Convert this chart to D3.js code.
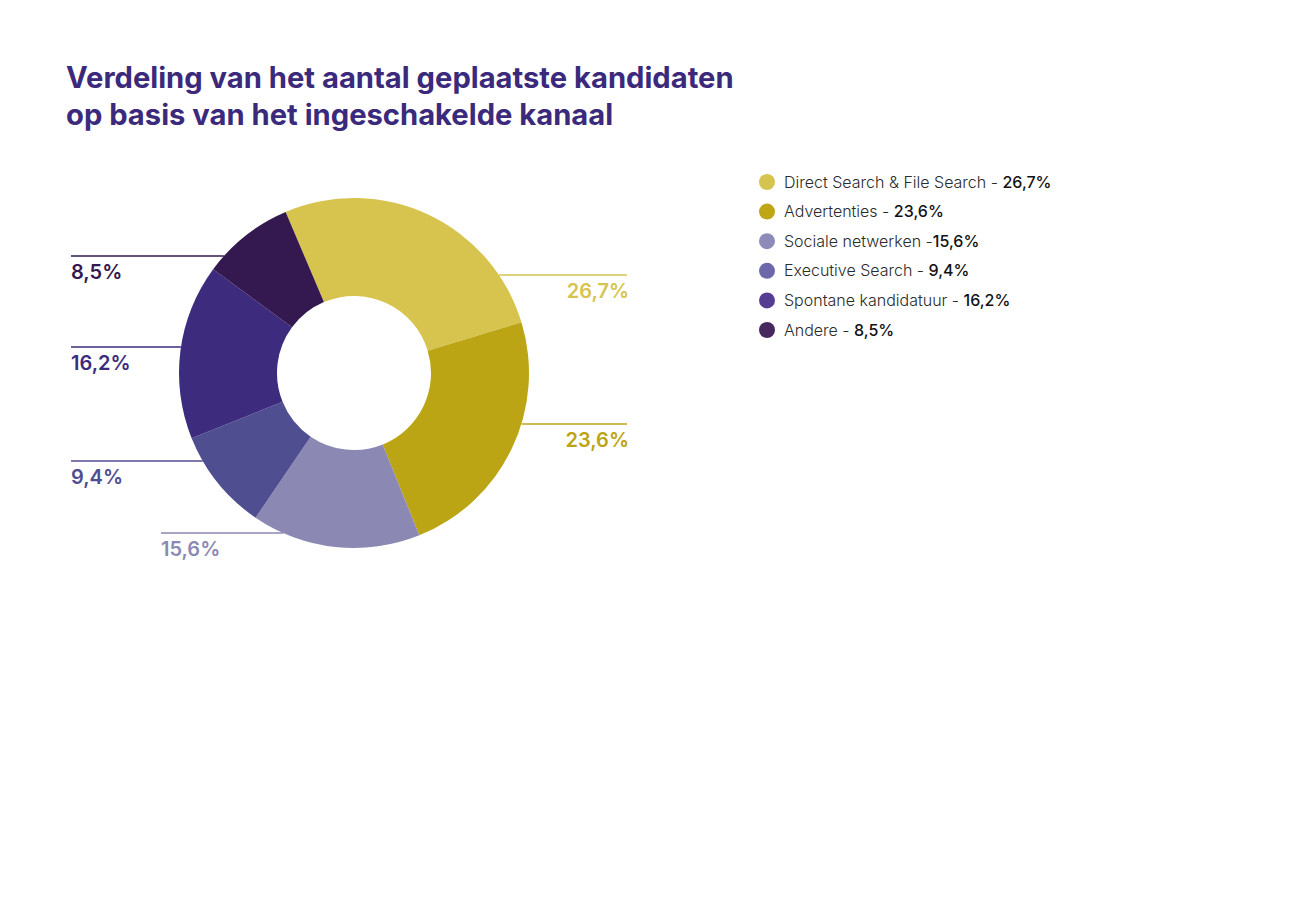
<!DOCTYPE html>
<html>
<head>
<meta charset="utf-8">
<script src="https://cdn.jsdelivr.net/npm/d3@7"></script>
<style>
  body { margin: 0; background: #fff; }
  svg { display: block; font-family: Inter, "Noto Sans", sans-serif; }
</style>
</head>
<body>
<div id="general"></div>
<script>
const w = 1300, h = 909;

const titleLines = [
  "Verdeling van het aantal geplaatste kandidaten",
  "op basis van het ingeschakelde kanaal"
];
const categories = ["Direct Search & File Search", "Advertenties", "Sociale netwerken",
  "Executive Search", "Spontane kandidatuur", "Andere"];
const values = [26.7, 23.6, 15.6, 9.4, 16.2, 8.5];
const valueLabels = ["26,7%", "23,6%", "15,6%", "9,4%", "16,2%", "8,5%"];
const legendSeps = [" - ", " - ", " -", " - ", " - ", " - "];

const sliceColors = ["#d6c44e", "#bca514", "#8b89b4", "#4f4e90", "#3d2b7d", "#33194f"];
const legendColors = ["#d6c450", "#c0a514", "#8d8bb8", "#6c68aa", "#553e92", "#46285f"];
const labelColors = ["#d6c44e", "#bca514", "#8b89b4", "#4f4e90", "#3d2b7d", "#33194f"];

// leader line height (relative to the centre), side and where the line starts/ends
const calloutDy = [-98, 51, 160, 88, -26, -117];
const calloutSide = ["r", "r", "l", "l", "l", "l"];
const calloutX = [627, 627, 161, 71, 71, 71];

const svg = d3.select("#general").append("svg").attr("width", w).attr("height", h);

// title
const title = svg.append("g");
titleLines.forEach((t, i) => {
  title.append("text")
    .text(t)
    .attr("x", 66)
    .attr("y", 88 + i * 37)
    .attr("font-size", 28)
    .attr("font-weight", 700)
    .attr("fill", "#3b2a7c");
});
// fit first line to the reference width
const tl = title.select("text").node().getComputedTextLength();
const fs = 28 * 668 / tl;
title.selectAll("text").attr("font-size", fs);

// donut
const cx = 354, cy = 373, rOut = 175, rIn = 77;
const g = svg.append("g").attr("transform", `translate(${cx},${cy})`);

const pie = d3.pie().sort(null).value(d => d)
  .startAngle(-23 * Math.PI / 180)
  .endAngle(-23 * Math.PI / 180 + 2 * Math.PI);
const arc = d3.arc().innerRadius(rIn).outerRadius(rOut);

g.selectAll("path.slice")
  .data(pie(values))
  .join("path")
  .attr("class", "slice")
  .attr("d", arc)
  .attr("fill", (d, i) => sliceColors[i]);

// callouts
values.forEach((v, i) => {
  const dy = calloutDy[i];
  const edge = Math.sqrt(rOut * rOut - dy * dy);
  const right = calloutSide[i] === "r";
  const x1 = right ? cx + edge : cx - edge;
  svg.append("line")
    .attr("x1", x1)
    .attr("x2", calloutX[i])
    .attr("y1", cy + dy)
    .attr("y2", cy + dy)
    .attr("stroke", labelColors[i])
    .attr("stroke-width", 1.5);
  svg.append("text")
    .text(valueLabels[i])
    .attr("x", calloutX[i] + (right ? 2 : 0))
    .attr("y", cy + dy + 23)
    .attr("text-anchor", right ? "end" : "start")
    .attr("font-size", 20)
    .attr("font-weight", 600)
    .attr("fill", labelColors[i]);
});

// legend
const legend = svg.append("g").attr("transform", "translate(767,182)");
const ly = d3.scalePoint().domain(categories).range([0, 148]);
categories.forEach((c, i) => {
  const row = legend.append("g").attr("transform", `translate(0,${ly(c)})`);
  row.append("circle").attr("r", 8).attr("fill", legendColors[i]);
  const t = row.append("text")
    .attr("x", 17)
    .attr("y", 5.5)
    .attr("font-size", 16);
  t.append("tspan").text(c + legendSeps[i]).attr("font-weight", 300).attr("fill", "#2b2b2b");
  t.append("tspan").text(valueLabels[i]).attr("font-weight", 500).attr("fill", "#111");
});
</script>
</body>
</html>
